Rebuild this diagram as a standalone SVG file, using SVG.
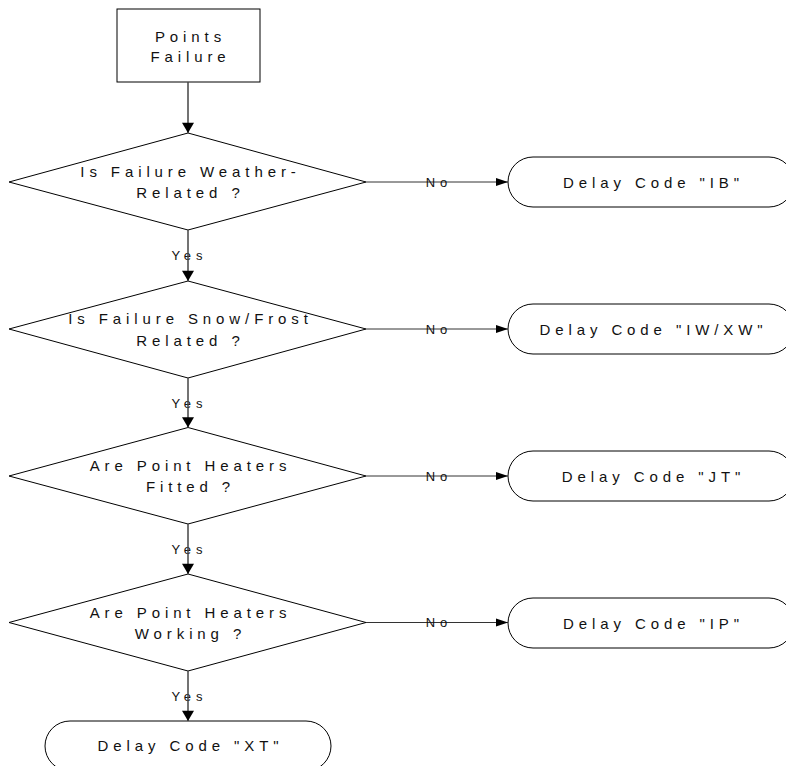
<svg xmlns="http://www.w3.org/2000/svg" width="786" height="766" viewBox="0 0 786 766">
<defs>
<style>
.shape{fill:#fff;stroke:#000;stroke-width:1}
.t{font-family:"Liberation Sans",Arial,sans-serif;font-size:15px;letter-spacing:4.9px;fill:#111;text-anchor:middle}
.lbl{font-family:"Liberation Sans",Arial,sans-serif;font-size:13px;letter-spacing:5px;fill:#111;text-anchor:middle}
.v{stroke:#444;stroke-width:1.5;fill:none}
.h{stroke:#333;stroke-width:1;fill:none}
</style>
<marker id="av" markerUnits="userSpaceOnUse" markerWidth="14" markerHeight="12" refX="11" refY="6.5" orient="auto" viewBox="0 0 14 13">
<path d="M0,0 L11,6.5 L0,13 z" fill="#000"/>
</marker>
<marker id="ah" markerUnits="userSpaceOnUse" markerWidth="13" markerHeight="9" refX="12" refY="4" orient="auto" viewBox="0 0 13 8">
<path d="M0,0 L12,4 L0,8 z" fill="#000"/>
</marker>
</defs>
<rect width="786" height="766" fill="#fff"/>

<g id="start">
<rect class="shape" x="117" y="9" width="143" height="73"/>
<text class="t" x="190.5" y="41.5">Points</text>
<text class="t" x="190.5" y="62">Failure</text>
</g>

<g id="d1">
<polygon class="shape" points="188,133 366,182 188,230 9,182"/>
<text class="t" x="190.5" y="177">Is Failure Weather-</text>
<text class="t" x="190.5" y="198">Related ?</text>
</g>

<g id="d2">
<polygon class="shape" points="188,281 366,329 188,378 9,329"/>
<text class="t" x="190.5" y="324">Is Failure Snow/Frost</text>
<text class="t" x="190.5" y="345.5">Related ?</text>
</g>

<g id="d3">
<polygon class="shape" points="188,427.5 366,476 188,524 9,476"/>
<text class="t" x="190.5" y="470.5">Are Point Heaters</text>
<text class="t" x="190.5" y="491.5">Fitted ?</text>
</g>

<g id="d4">
<polygon class="shape" points="188,574 366,622.5 188,671 9,622.5"/>
<text class="t" x="190.5" y="618">Are Point Heaters</text>
<text class="t" x="190.5" y="639">Working ?</text>
</g>

<g id="tIB">
<rect class="shape" x="508" y="157" width="286" height="50" rx="25" ry="25"/>
<text class="t" x="653.5" y="187.5">Delay Code "IB"</text>
</g>

<g id="tIW">
<rect class="shape" x="508" y="304" width="286" height="50" rx="25" ry="25"/>
<text class="t" x="653.5" y="334.5">Delay Code "IW/XW"</text>
</g>

<g id="tJT">
<rect class="shape" x="508" y="451" width="286" height="50" rx="25" ry="25"/>
<text class="t" x="653.5" y="481.5">Delay Code "JT"</text>
</g>

<g id="tIP">
<rect class="shape" x="508" y="598" width="286" height="50" rx="25" ry="25"/>
<text class="t" x="653.5" y="628.5">Delay Code "IP"</text>
</g>

<g id="tXT">
<rect class="shape" x="45" y="721" width="286" height="50" rx="25" ry="25"/>
<text class="t" x="190.5" y="751">Delay Code "XT"</text>
</g>

<g id="connectors">
<line class="v" x1="188" y1="82" x2="188" y2="133" marker-end="url(#av)"/>

<text class="lbl" x="189.5" y="260">Yes</text>
<line class="v" x1="188" y1="230" x2="188" y2="281" marker-end="url(#av)"/>
<text class="lbl" x="189.5" y="408">Yes</text>
<line class="v" x1="188" y1="378" x2="188" y2="427.5" marker-end="url(#av)"/>
<text class="lbl" x="189.5" y="554">Yes</text>
<line class="v" x1="188" y1="524" x2="188" y2="574" marker-end="url(#av)"/>
<text class="lbl" x="189.5" y="701">Yes</text>
<line class="v" x1="188" y1="671" x2="188" y2="721" marker-end="url(#av)"/>

<line class="h" x1="366" y1="182" x2="508" y2="182" marker-end="url(#ah)"/>
<text class="lbl" x="439" y="186.5">No</text>
<line class="h" x1="366" y1="329" x2="508" y2="329" marker-end="url(#ah)"/>
<text class="lbl" x="439" y="333.5">No</text>
<line class="h" x1="366" y1="476" x2="508" y2="476" marker-end="url(#ah)"/>
<text class="lbl" x="439" y="480.5">No</text>
<line class="h" x1="366" y1="622.5" x2="508" y2="622.5" marker-end="url(#ah)"/>
<text class="lbl" x="439" y="627">No</text>
</g>
</svg>
